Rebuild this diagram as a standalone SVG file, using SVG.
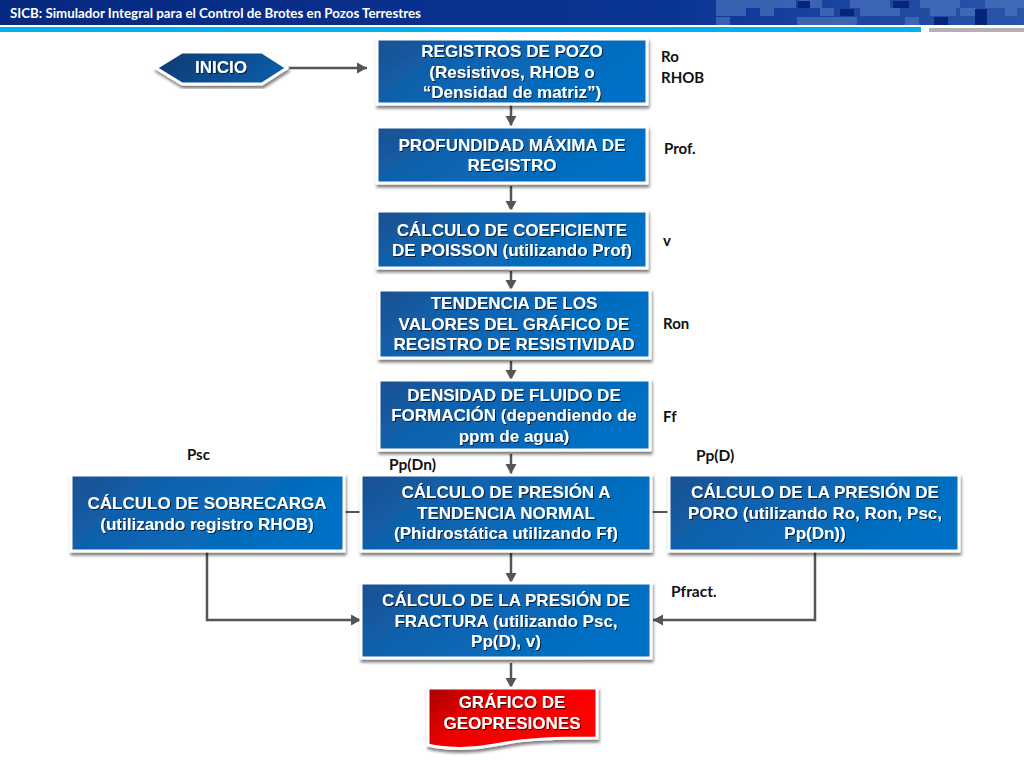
<svg xmlns="http://www.w3.org/2000/svg" width="1024" height="768" viewBox="0 0 1024 768">
<style>
.box{stroke:#fff;stroke-width:3;fill:url(#blue);filter:url(#sh)}
.t{font:bold 17px "Liberation Sans",Arial,sans-serif;fill:#fff;text-anchor:middle;filter:url(#ts)}
.l{font:bold 15px Lato,"Noto Sans",sans-serif;fill:#111}
.c{fill:none;stroke:#555;stroke-width:2}
.a{fill:none;stroke:#555;stroke-width:2.5;marker-end:url(#ah)}
</style>
<defs>
<linearGradient id="blue" x1="0" y1="0" x2="1" y2="0.35"><stop offset="0" stop-color="#1d4f8f"/><stop offset="0.35" stop-color="#0f62ae"/><stop offset="1" stop-color="#0070c4"/></linearGradient>
<linearGradient id="navy" x1="0" y1="0" x2="1" y2="0.3"><stop offset="0" stop-color="#12386f"/><stop offset="1" stop-color="#0f5aa5"/></linearGradient>
<linearGradient id="red" x1="0" y1="0" x2="1" y2="0.4"><stop offset="0" stop-color="#a80008"/><stop offset="0.4" stop-color="#f00000"/><stop offset="1" stop-color="#ff0000"/></linearGradient>
<linearGradient id="hd" x1="0" y1="0" x2="1" y2="0"><stop offset="0" stop-color="#06297f"/><stop offset="0.65" stop-color="#0a3494"/><stop offset="1" stop-color="#2b55a8"/></linearGradient>
<filter id="sh" x="-5%" y="-10%" width="110%" height="125%"><feDropShadow dx="1" dy="3" stdDeviation="1.6" flood-color="#000" flood-opacity="0.5"/></filter>
<filter id="ts" x="-5%" y="-20%" width="110%" height="140%"><feDropShadow dx="1" dy="1" stdDeviation="0.6" flood-color="#000" flood-opacity="0.7"/></filter>
<marker id="ah" markerUnits="userSpaceOnUse" markerWidth="11" markerHeight="12" refX="10" refY="6" orient="auto"><path d="M0 0.5L10 6L0 11.5z" fill="#555"/></marker>
</defs>
<rect width="1024" height="768" fill="#fff"/>
<g id="header">
<rect width="1024" height="25" fill="url(#hd)"/>
<g fill="#4a72bd" opacity="0.7">
<rect x="716" y="0" width="80" height="8"/><rect x="716" y="17" width="14" height="8"/><rect x="760" y="8" width="14" height="8"/><rect x="798" y="17" width="24" height="8"/><rect x="798" y="0" width="24" height="8"/><rect x="820" y="8" width="14" height="8"/><rect x="797" y="17" width="60" height="8"/><rect x="850" y="0" width="40" height="8"/><rect x="905" y="17" width="14" height="8"/><rect x="960" y="8" width="16" height="8"/><rect x="985" y="0" width="39" height="8"/><rect x="1005" y="8" width="12" height="8"/><rect x="920" y="0" width="40" height="8"/><rect x="716" y="8" width="30" height="8"/><rect x="860" y="8" width="40" height="8"/><rect x="930" y="8" width="26" height="8"/>
</g>
<g fill="#06247a">
<rect x="798" y="1" width="12" height="7"/><rect x="893" y="1" width="16" height="7"/><rect x="840" y="9" width="14" height="7"/><rect x="975" y="9" width="12" height="16"/><rect x="934" y="17" width="14" height="8"/>
</g>
<rect y="27" width="921" height="5" fill="#00b0f0"/>
<rect x="929" y="28" width="95" height="4" fill="#b5b0b5"/>
<text x="10" y="18" style="font:bold 13.3px Lato,'Noto Sans',sans-serif;fill:#fff">SICB: Simulador Integral para el Control de Brotes en Pozos Terrestres</text>
</g>
<g id="connectors">
<path class="a" d="M288 68H367"/>
<path class="a" d="M511 105V126"/>
<path class="a" d="M511 186V211"/>
<path class="a" d="M511 271V290"/>
<path class="a" d="M511 361V380"/>
<path class="a" d="M511 454V474"/>
<path class="a" d="M511 553V583"/>
<path class="a" d="M511 663V688"/>
<path class="a" d="M207 552V620H361"/>
<path class="a" d="M815 552V620H653"/>
<path class="c" d="M344 512H361"/>
<path class="c" d="M652 512H670"/>
</g>
<g id="inicio">
<path d="M156 68L182 52H262L287 68L262 84H182z" fill="url(#navy)" stroke="#fff" stroke-width="3" filter="url(#sh)"/>
<text class="t" x="221" y="73">INICIO</text>
</g>
<g id="registros"><rect class="box" x="377" y="39" width="270" height="65"/>
<text class="t" x="512" y="57">REGISTROS DE POZO</text><text class="t" x="512" y="78">(Resistivos, RHOB o</text><text class="t" x="512" y="98">“Densidad de matriz”)</text></g>
<g id="profundidad"><rect class="box" x="377" y="127" width="270" height="56"/>
<text class="t" x="512" y="151">PROFUNDIDAD MÁXIMA DE</text><text class="t" x="512" y="171">REGISTRO</text></g>
<g id="poisson"><rect class="box" x="377" y="211" width="270" height="57"/>
<text class="t" x="512" y="236">CÁLCULO DE COEFICIENTE</text><text class="t" x="512" y="256">DE POISSON (utilizando Prof)</text></g>
<g id="tendencia"><rect class="box" x="379" y="290" width="271" height="68"/>
<text class="t" x="514" y="309">TENDENCIA DE LOS</text><text class="t" x="514" y="330">VALORES DEL GRÁFICO DE</text><text class="t" x="514" y="350">REGISTRO DE RESISTIVIDAD</text></g>
<g id="densidad"><rect class="box" x="379" y="380" width="271" height="70"/>
<text class="t" x="514" y="401">DENSIDAD DE FLUIDO DE</text><text class="t" x="514" y="421">FORMACIÓN (dependiendo de</text><text class="t" x="514" y="442">ppm de agua)</text></g>
<g id="sobrecarga"><rect class="box" x="71" y="475" width="273" height="76"/>
<text class="t" x="207" y="509">CÁLCULO DE SOBRECARGA</text><text class="t" x="207" y="530">(utilizando registro RHOB)</text></g>
<g id="normal"><rect class="box" x="361" y="475" width="290" height="76"/>
<text class="t" x="506" y="498">CÁLCULO DE PRESIÓN A</text><text class="t" x="506" y="519">TENDENCIA NORMAL</text><text class="t" x="506" y="539">(Phidrostática utilizando Ff)</text></g>
<g id="poro"><rect class="box" x="669" y="475" width="290" height="76"/>
<text class="t" x="815" y="498">CÁLCULO DE LA PRESIÓN DE</text><text class="t" x="815" y="519">PORO (utilizando Ro, Ron, Psc,</text><text class="t" x="815" y="539">Pp(Dn))</text></g>
<g id="fractura"><rect class="box" x="361" y="583" width="290" height="75"/>
<text class="t" x="506" y="606">CÁLCULO DE LA PRESIÓN DE</text><text class="t" x="506" y="627">FRACTURA (utilizando Psc,</text><text class="t" x="506" y="647">Pp(D), v)</text></g>
<g id="grafico">
<path d="M428 688H597V738C560 738 530 738 495 745C470 750 445 749 428 745z" fill="url(#red)" stroke="#fff" stroke-width="3" filter="url(#sh)"/>
<text class="t" x="512" y="708">GRÁFICO DE</text><text class="t" x="512" y="729">GEOPRESIONES</text>
</g>
<g id="labels">
<text class="l" x="661" y="62">Ro</text><text class="l" x="661" y="83">RHOB</text>
<text class="l" x="664" y="154">Prof.</text>
<text class="l" x="663" y="246" font-style="italic">v</text>
<text class="l" x="663" y="329">Ron</text>
<text class="l" x="663" y="422">Ff</text>
<text class="l" x="187" y="460">Psc</text>
<text class="l" x="389" y="470" style="font-size:15.5px">Pp(Dn)</text>
<text class="l" x="696" y="461" style="font-size:15.5px">Pp(D)</text>
<text class="l" x="671" y="597" style="font-size:15.5px">Pfract.</text>
</g>
</svg>
